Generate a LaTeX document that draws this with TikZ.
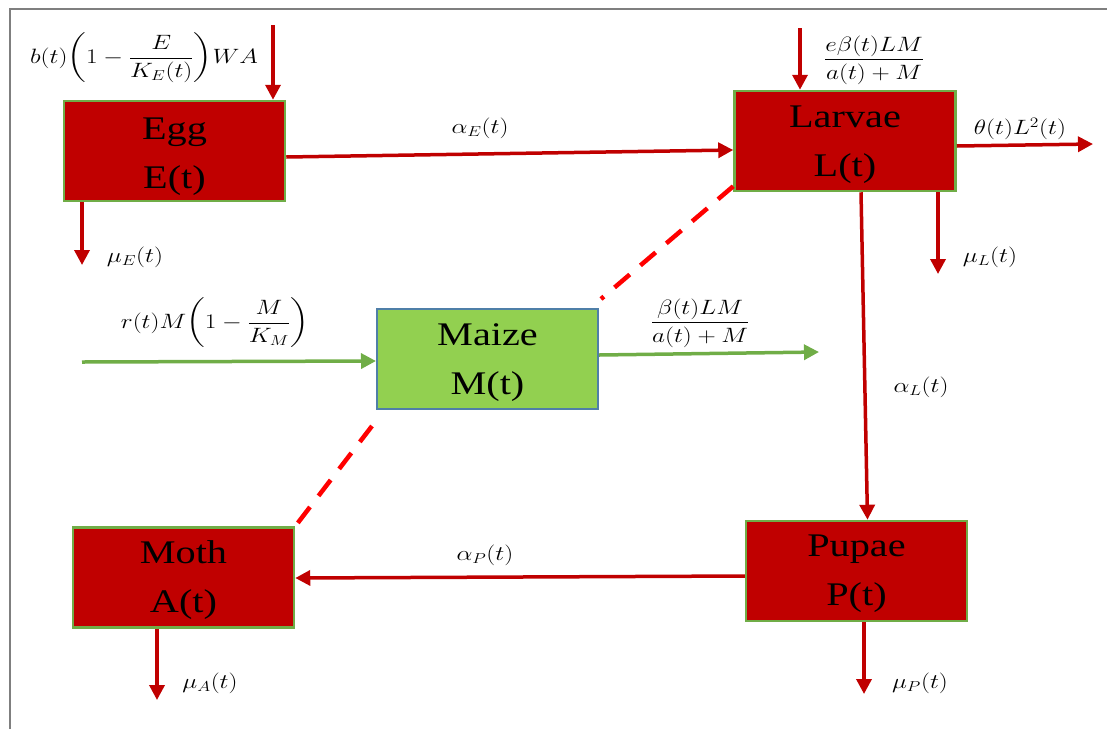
\documentclass[tikz,border=0pt]{standalone}
\usepackage{fontspec}
\usepackage{amsmath}
\usepackage{graphicx}
\setmainfont{Liberation Serif}
\usetikzlibrary{arrows.meta,calc}
\definecolor{boxred}{HTML}{C00000}
\definecolor{boxgreen}{HTML}{70AD47}
\definecolor{maizefill}{HTML}{92D050}
\definecolor{maizeedge}{HTML}{4F7FA8}
\definecolor{bordergray}{HTML}{7F7F7F}
\newcommand{\hs}[1]{\scalebox{1.22}[1]{#1}}
\tikzset{
  stagebox/.style={draw=boxgreen, fill=boxred, line width=2.5pt, minimum width=221pt, minimum height=100pt, inner sep=0pt},
  maizebox/.style={stagebox, fill=maizefill, draw=maizeedge, line width=2pt},
  boxtext/.style={align=center, inner sep=0pt, font=\fontsize{33}{49}\selectfont},
  flow/.style={draw=boxred, line width=3.5pt, -{Triangle[width=15pt,length=15pt]}},
  gflow/.style={draw=boxgreen, line width=3.5pt, -{Triangle[width=15pt,length=15pt]}},
  link/.style={draw=red, line width=4.5pt, dash pattern=on 20pt off 14pt},
  lbl/.style={inner sep=0pt, font=\fontsize{22}{26}\selectfont},
  biglbl/.style={lbl, font=\fontsize{20}{24}\selectfont}
}
\begin{document}
\begin{tikzpicture}[x=1pt,y=-1pt]
\useasboundingbox (0,0) rectangle (1107,729);
\draw[bordergray, line width=2pt] (10,729) -- (10,9) -- (1107,9);

\node[stagebox] (egg) at (174.5,151) {};
\node[boxtext] (eggtxt) at ($(egg)+(0,6)$) {\hs{Egg}\\\hs{E(t)}};
\node[stagebox] (larvae) at (845,141) {};
\node[boxtext] (larvaetxt) at ($(larvae)+(0,4)$) {\hs{Larvae}\\\hs{L(t)}};
\node[maizebox] (maize) at (487.5,359) {};
\node[boxtext] (maizetxt) at ($(maize)+(0,4)$) {\hs{Maize}\\\hs{M(t)}};
\node[stagebox] (moth) at (183.5,577.5) {};
\node[boxtext] (mothtxt) at ($(moth)+(0,3)$) {\hs{Moth}\\\hs{A(t)}};
\node[stagebox] (pupae) at (856.5,571) {};
\node[boxtext] (pupaetxt) at ($(pupae)+(0,3)$) {\hs{Pupae}\\\hs{P(t)}};

% Egg
\coordinate (eggin) at (273,25);
\draw[flow] (eggin) -- (eggin |- egg.north);
\node[biglbl] (leggin) at (144,58) {\hs{$b(t)\!\left(1-\dfrac{E}{K_E(t)}\right)\!WA$}};
\draw[flow] ($(egg.east)+(0,6)$) -- ($(larvae.west)+(0,9)$);
\node[lbl] (lae) at (480,128) {\hs{$\alpha_E(t)$}};
\coordinate (egmu) at (82,265);
\draw[flow] (egmu |- egg.south) -- (egmu);
\node[lbl] (lme) at (135,257) {\hs{$\mu_E(t)$}};

% Larvae
\coordinate (larin) at (800,28);
\draw[flow] (larin) -- (larin |- larvae.north);
\node[lbl] (llarin) at (874,60) {\hs{$\dfrac{e\beta(t)LM}{a(t)+M}$}};
\coordinate (larth) at (1093,144);
\draw[flow] ($(larvae.east)+(0,5)$) -- (larth);
\node[lbl] (lth) at (1020,129) {\hs{$\theta(t)L^2(t)$}};
\coordinate (larmu) at (938,274);
\draw[flow] (larmu |- larvae.south) -- (larmu);
\node[lbl] (lml) at (990,257) {\hs{$\mu_L(t)$}};
\draw[flow] ($(larvae.south)+(16,0)$) -- ($(pupae.north)+(11,0)$);
\node[lbl] (lal) at (921,387) {\hs{$\alpha_L(t)$}};

% Pupae
\coordinate (pupmu) at (864,694);
\draw[flow] (pupmu |- pupae.south) -- (pupmu);
\node[lbl] (lmp) at (920,683) {\hs{$\mu_P(t)$}};
\draw[flow] ($(pupae.west)+(0,5)$) -- ($(moth.east)+(0,0.5)$);
\node[lbl] (lap) at (485,555) {\hs{$\alpha_P(t)$}};

% Moth
\coordinate (mothmu) at (157,700);
\draw[flow] (mothmu |- moth.south) -- (mothmu);
\node[lbl] (lma) at (210,683) {\hs{$\mu_A(t)$}};

% Maize
\coordinate (maizein) at (82,362);
\draw[gflow] (maizein) -- ($(maize.west)+(0,2)$);
\node[biglbl] (lmin) at (215,323) {\hs{$r(t)M\!\left(1-\dfrac{M}{K_M}\right)$}};
\coordinate (maizeout) at (819,352);
\draw[gflow] ($(maize.east)+(0,-4)$) -- (maizeout);
\node[lbl] (lmout) at (700,323) {\hs{$\dfrac{\beta(t)LM}{a(t)+M}$}};

% dashed links
\draw[link] ($(larvae.south west)+(0,-6)$) -- ($(maize.north east)+(2,-9)$);
\draw[link] ($(maize.south west)+(-4,16)$) -- (moth.north east);
\end{tikzpicture}
\end{document}
